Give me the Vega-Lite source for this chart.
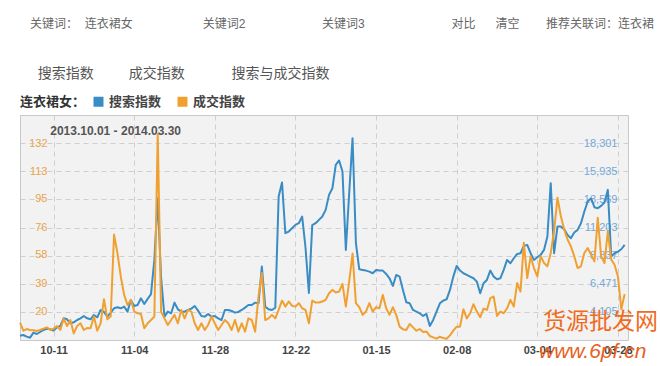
{
  "$schema": "https://vega.github.io/schema/vega-lite/v6.json",
  "width": 608,
  "height": 225,
  "autosize": {"type": "none"},
  "padding": {"left": 20, "top": 115, "right": 32, "bottom": 26},
  "background": "white",
  "config": {
    "font": "Liberation Sans, Noto Sans CJK SC, sans-serif",
    "view": {"fill": "#f2f2f2", "stroke": "#c8c8c8", "strokeWidth": 1},
    "axis": {"labelOverlap": false, "labelSeparation": 0, "labelFlush": false}
  },
  "title": {
    "text": "关键词：\u00a0\u00a0连衣裙女\u00a0\u00a0\u00a0\u00a0\u00a0\u00a0\u00a0\u00a0\u00a0\u00a0\u00a0\u00a0\u00a0\u00a0\u00a0\u00a0\u00a0\u00a0\u00a0\u00a0\u00a0关键词2\u00a0\u00a0\u00a0\u00a0\u00a0\u00a0\u00a0\u00a0\u00a0\u00a0\u00a0\u00a0\u00a0\u00a0\u00a0\u00a0\u00a0\u00a0\u00a0\u00a0\u00a0\u00a0\u00a0关键词3\u00a0\u00a0\u00a0\u00a0\u00a0\u00a0\u00a0\u00a0\u00a0\u00a0\u00a0\u00a0\u00a0\u00a0\u00a0\u00a0\u00a0\u00a0\u00a0\u00a0\u00a0\u00a0\u00a0\u00a0\u00a0\u00a0对比\u00a0\u00a0\u00a0\u00a0\u00a0\u00a0清空\u00a0\u00a0\u00a0\u00a0\u00a0\u00a0\u00a0\u00a0推荐关联词：连衣裙",
    "subtitle": "\u200b\u00a0\u00a0搜索指数\u00a0\u00a0\u00a0\u00a0\u00a0\u00a0\u00a0\u00a0\u00a0成交指数\u00a0\u00a0\u00a0\u00a0\u00a0\u00a0\u00a0\u00a0\u00a0\u00a0\u00a0\u00a0搜索与成交指数",
    "anchor": "start",
    "frame": "group",
    "dx": 10,
    "offset": 13,
    "fontSize": 12,
    "fontWeight": "normal",
    "color": "#666666",
    "subtitleFontSize": 14,
    "subtitleColor": "#555555",
    "subtitlePadding": 36
  },
  "data": {
    "values": [
      {"d":"2013-10-01","s":2104,"t":12.9},{"d":"2013-10-02","s":2160,"t":7.5},{"d":"2013-10-03","s":2020,"t":8.6},{"d":"2013-10-04","s":1935,"t":8.0},{"d":"2013-10-05","s":2357,"t":7.8},{"d":"2013-10-06","s":2244,"t":7.3},{"d":"2013-10-07","s":2413,"t":8.0},{"d":"2013-10-08","s":2581,"t":8.9},{"d":"2013-10-09","s":2693,"t":9.7},{"d":"2013-10-10","s":2637,"t":8.0},
      {"d":"2013-10-11","s":2525,"t":8.9},{"d":"2013-10-12","s":2806,"t":10.6},{"d":"2013-10-13","s":2918,"t":8.0},{"d":"2013-10-14","s":3564,"t":15.5},{"d":"2013-10-15","s":3479,"t":10.6},{"d":"2013-10-16","s":3143,"t":14.6},{"d":"2013-10-17","s":3227,"t":5.7},{"d":"2013-10-18","s":3423,"t":10.6},{"d":"2013-10-19","s":3564,"t":12.4},{"d":"2013-10-20","s":3760,"t":8.0},
      {"d":"2013-10-21","s":3564,"t":9.3},{"d":"2013-10-22","s":3479,"t":9.1},{"d":"2013-10-23","s":3844,"t":16.9},{"d":"2013-10-24","s":3648,"t":7.5},{"d":"2013-10-25","s":4265,"t":12.4},{"d":"2013-10-26","s":4097,"t":28.4},{"d":"2013-10-27","s":3704,"t":15.1},{"d":"2013-10-28","s":4041,"t":16.9},{"d":"2013-10-29","s":4406,"t":71.3},{"d":"2013-10-30","s":4490,"t":59.1},
      {"d":"2013-10-31","s":4406,"t":43.5},
      {"d":"2013-11-01","s":4546,"t":31.3},{"d":"2013-11-02","s":4125,"t":24.6},{"d":"2013-11-03","s":5107,"t":28.0},{"d":"2013-11-04","s":4602,"t":20.2},{"d":"2013-11-05","s":4686,"t":19.1},{"d":"2013-11-06","s":5248,"t":18.6},{"d":"2013-11-07","s":4771,"t":9.1},{"d":"2013-11-08","s":5200,"t":12.4},{"d":"2013-11-09","s":5600,"t":14.6},{"d":"2013-11-10","s":8500,"t":16.9},
      {"d":"2013-11-11","s":13669,"t":138},{"d":"2013-11-12","s":7000,"t":20},{"d":"2013-11-13","s":3700,"t":15.7},{"d":"2013-11-14","s":4125,"t":11.3},{"d":"2013-11-15","s":3985,"t":14.6},{"d":"2013-11-16","s":4883,"t":18.0},{"d":"2013-11-17","s":4321,"t":12.4},{"d":"2013-11-18","s":4125,"t":21.3},{"d":"2013-11-19","s":4125,"t":15.7},{"d":"2013-11-20","s":4265,"t":21.3},
      {"d":"2013-11-21","s":4378,"t":20.2},{"d":"2013-11-22","s":4602,"t":12.4},{"d":"2013-11-23","s":4209,"t":8.0},{"d":"2013-11-24","s":3760,"t":12.4},{"d":"2013-11-25","s":3704,"t":8.0},{"d":"2013-11-26","s":3928,"t":11.3},{"d":"2013-11-27","s":3704,"t":16.9},{"d":"2013-11-28","s":3760,"t":12.4},{"d":"2013-11-29","s":3564,"t":8.0},{"d":"2013-11-30","s":3423,"t":11.3},
      {"d":"2013-12-01","s":4265,"t":14.6},{"d":"2013-12-02","s":4265,"t":12.4},{"d":"2013-12-03","s":4181,"t":8.0},{"d":"2013-12-04","s":4041,"t":14.6},{"d":"2013-12-05","s":4097,"t":6.9},{"d":"2013-12-06","s":4265,"t":12.4},{"d":"2013-12-07","s":4462,"t":6.9},{"d":"2013-12-08","s":4686,"t":15.7},{"d":"2013-12-09","s":4686,"t":14.6},{"d":"2013-12-10","s":4883,"t":6.9},
      {"d":"2013-12-11","s":4827,"t":30.2},{"d":"2013-12-12","s":7914,"t":45.8},{"d":"2013-12-13","s":4546,"t":14.6},{"d":"2013-12-14","s":4321,"t":15.7},{"d":"2013-12-15","s":4265,"t":18.0},{"d":"2013-12-16","s":4450,"t":15.7},{"d":"2013-12-17","s":13809,"t":21.3},{"d":"2013-12-18","s":14988,"t":27.5},{"d":"2013-12-19","s":10721,"t":23.5},{"d":"2013-12-20","s":10862,"t":26.9},
      {"d":"2013-12-21","s":11142,"t":24.0},{"d":"2013-12-22","s":11423,"t":23.5},{"d":"2013-12-23","s":11564,"t":25.8},{"d":"2013-12-24","s":12125,"t":22.4},{"d":"2013-12-25","s":9500,"t":21.3},{"d":"2013-12-26","s":5700,"t":12.4},{"d":"2013-12-27","s":11400,"t":27.5},{"d":"2013-12-28","s":11564,"t":26.2},{"d":"2013-12-29","s":11844,"t":26.2},{"d":"2013-12-30","s":12125,"t":26.9},
      {"d":"2013-12-31","s":12686,"t":28.0},
      {"d":"2014-01-01","s":13949,"t":32.4},{"d":"2014-01-02","s":14511,"t":34.6},{"d":"2014-01-03","s":16476,"t":32.9},{"d":"2014-01-04","s":16841,"t":33.5},{"d":"2014-01-05","s":15914,"t":38.6},{"d":"2014-01-06","s":9318,"t":23.5},{"d":"2014-01-07","s":14090,"t":40.2},{"d":"2014-01-08","s":18721,"t":58.7},{"d":"2014-01-09","s":9879,"t":25.8},{"d":"2014-01-10","s":7690,"t":23.1},
      {"d":"2014-01-11","s":7634,"t":18.0},{"d":"2014-01-12","s":7578,"t":20.2},{"d":"2014-01-13","s":7493,"t":25.8},{"d":"2014-01-14","s":7353,"t":20.2},{"d":"2014-01-15","s":7634,"t":23.1},{"d":"2014-01-16","s":7578,"t":22.4},{"d":"2014-01-17","s":7578,"t":31.3},{"d":"2014-01-18","s":7297,"t":22.4},{"d":"2014-01-19","s":6932,"t":18.0},{"d":"2014-01-20","s":6286,"t":23.1},
      {"d":"2014-01-21","s":7213,"t":18.0},{"d":"2014-01-22","s":7072,"t":10.2},{"d":"2014-01-23","s":5950,"t":8.4},{"d":"2014-01-24","s":4911,"t":8.0},{"d":"2014-01-25","s":4827,"t":12.0},{"d":"2014-01-26","s":4265,"t":9.7},{"d":"2014-01-27","s":4125,"t":7.5},{"d":"2014-01-28","s":3985,"t":8.6},{"d":"2014-01-29","s":3760,"t":6.6},{"d":"2014-01-30","s":3928,"t":6.9},
      {"d":"2014-01-31","s":2918,"t":4.0},
      {"d":"2014-02-01","s":3423,"t":3.1},{"d":"2014-02-02","s":4125,"t":2.2},{"d":"2014-02-03","s":4827,"t":3.5},{"d":"2014-02-04","s":5051,"t":2.6},{"d":"2014-02-05","s":5164,"t":2.2},{"d":"2014-02-06","s":5950,"t":4.4},{"d":"2014-02-07","s":7072,"t":7.5},{"d":"2014-02-08","s":7971,"t":10.2},{"d":"2014-02-09","s":7578,"t":10.2},{"d":"2014-02-10","s":7353,"t":21.8},
      {"d":"2014-02-11","s":7213,"t":15.7},{"d":"2014-02-12","s":7072,"t":19.1},{"d":"2014-02-13","s":6932,"t":25.1},{"d":"2014-02-14","s":6651,"t":20.2},{"d":"2014-02-15","s":5669,"t":16.4},{"d":"2014-02-16","s":6511,"t":22.2},{"d":"2014-02-17","s":6792,"t":21.3},{"d":"2014-02-18","s":7578,"t":29.1},{"d":"2014-02-19","s":7072,"t":30.2},{"d":"2014-02-20","s":6848,"t":17.3},
      {"d":"2014-02-21","s":6932,"t":20.2},{"d":"2014-02-22","s":7634,"t":19.1},{"d":"2014-02-23","s":8476,"t":22.4},{"d":"2014-02-24","s":8195,"t":28.0},{"d":"2014-02-25","s":8616,"t":23.5},{"d":"2014-02-26","s":8981,"t":39.1},{"d":"2014-02-27","s":9037,"t":33.5},{"d":"2014-02-28","s":9655,"t":65.8},
      {"d":"2014-03-01","s":9739,"t":42.4},{"d":"2014-03-02","s":9037,"t":56.9},{"d":"2014-03-03","s":8476,"t":49.1},{"d":"2014-03-04","s":8700,"t":43.5},{"d":"2014-03-05","s":8897,"t":56.9},{"d":"2014-03-06","s":9318,"t":52.4},{"d":"2014-03-07","s":10441,"t":50.2},{"d":"2014-03-08","s":14932,"t":59.1},{"d":"2014-03-09","s":9037,"t":73.5},{"d":"2014-03-10","s":11283,"t":95.8},
      {"d":"2014-03-11","s":11283,"t":83.6},{"d":"2014-03-12","s":11058,"t":74.7},{"d":"2014-03-13","s":10581,"t":68.0},{"d":"2014-03-14","s":10300,"t":63.5},{"d":"2014-03-15","s":10778,"t":56.9},{"d":"2014-03-16","s":11002,"t":49.1},{"d":"2014-03-17","s":11564,"t":50.2},{"d":"2014-03-18","s":12546,"t":59.1},{"d":"2014-03-19","s":13388,"t":62.4},{"d":"2014-03-20","s":13669,"t":58.0},
      {"d":"2014-03-21","s":12911,"t":53.5},{"d":"2014-03-22","s":12827,"t":82.4},{"d":"2014-03-23","s":13023,"t":56.9},{"d":"2014-03-24","s":13304,"t":52.4},{"d":"2014-03-25","s":14371,"t":73.5},{"d":"2014-03-26","s":8757,"t":54.7},{"d":"2014-03-27","s":9037,"t":51.3},{"d":"2014-03-28","s":9178,"t":43.5},{"d":"2014-03-29","s":9374,"t":21.8},{"d":"2014-03-30","s":9739,"t":31.8}
    ],
    "format": {"parse": {"d": "date:'%Y-%m-%d'"}}
  },
  "layer": [
    {
      "mark": {"type": "line", "strokeWidth": 2, "strokeJoin": "round"},
      "encoding": {
        "x": {
          "field": "d", "type": "temporal",
          "scale": {"domain": [{"year": 2013, "month": 10, "date": 1}, {"year": 2014, "month": 3, "date": 31}]},
          "axis": {
            "title": null,
            "values": [{"year": 2013, "month": 10, "date": 11}, {"year": 2013, "month": 11, "date": 4}, {"year": 2013, "month": 11, "date": 28}, {"year": 2013, "month": 12, "date": 22}, {"year": 2014, "month": 1, "date": 15}, {"year": 2014, "month": 2, "date": 8}, {"year": 2014, "month": 3, "date": 4}, {"year": 2014, "month": 3, "date": 28}],
            "format": "%m-%d",
            "labelFontSize": 11,
            "labelFontWeight": "bold",
            "labelColor": "#444444",
            "labelPadding": 4,
            "tickSize": 0,
            "ticks": false,
            "domain": false,
            "grid": true,
            "gridDash": [5, 4],
            "gridColor": "#cfcfcf",
            "labelFlush": false,
            "labelOverlap": false
          }
        },
        "y": {
          "field": "s", "type": "quantitative",
          "scale": {"domain": [1739, 20667], "nice": false, "zero": false},
          "axis": {
            "orient": "right",
            "title": null,
            "values": [4105, 6471, 8837, 11203, 13569, 15935, 18301],
            "labelExpr": "format(datum.value, ',d')",
            "labelColor": "#73a8d8",
            "labelFontSize": 11,
            "labelAlign": "right",
            "labelBaseline": "middle",
            "labelPadding": -11,
            "tickSize": 0,
            "ticks": false,
            "domain": false,
            "grid": true,
            "gridDash": [5, 4],
            "gridColor": "#cfcfcf",
            "labelFlush": false,
            "labelOverlap": false,
            "labelBound": false
          }
        },
        "color": {
          "datum": "搜索指数",
          "type": "nominal",
          "scale": {"domain": ["搜索指数", "成交指数"], "range": ["#3a8cc4", "#f0a030"]},
          "legend": {
            "orient": "none",
            "legendX": 0,
            "legendY": -20,
            "direction": "horizontal",
            "title": "连衣裙女：",
            "titleOrient": "left",
            "titleFontSize": 13,
            "titleFontWeight": "bold",
            "titleColor": "#333333",
            "titlePadding": 6,
            "labelFontSize": 13,
            "labelFontWeight": "bold",
            "labelColor": "#444444",
            "labelOffset": 4,
            "columnPadding": 14,
            "symbolType": "square",
            "symbolSize": 100,
            "symbolStrokeWidth": 0,
            "encode": {"symbols": {"update": {"fill": {"scale": "color", "field": "value"}, "fillOpacity": {"value": 1}, "strokeWidth": {"value": 0}}}}
          }
        }
      }
    },
    {
      "mark": {"type": "line", "strokeWidth": 2, "strokeJoin": "round"},
      "encoding": {
        "x": {"field": "d", "type": "temporal"},
        "y": {
          "field": "t", "type": "quantitative",
          "scale": {"domain": [1.333, 150.67], "nice": false, "zero": false},
          "axis": {
            "orient": "left",
            "title": null,
            "values": [20, 39, 58, 76, 95, 113, 132],
            "labelExpr": "format(datum.value, 'd')",
            "labelColor": "#e8a54c",
            "labelFontSize": 11,
            "labelAlign": "right",
            "labelBaseline": "middle",
            "labelPadding": -27,
            "tickSize": 0,
            "ticks": false,
            "domain": false,
            "grid": false,
            "labelFlush": false,
            "labelOverlap": false,
            "labelBound": false
          }
        },
        "color": {"datum": "成交指数", "type": "nominal"}
      }
    },
    {
      "encoding": {
        "y": {
          "scale": {"domain": [1.333, 150.67], "nice": false, "zero": false},
          "axis": {"orient": "left", "title": null, "labels": false, "ticks": false, "domain": false, "grid": false}
        }
      },
      "layer": [
        {
          "data": {"values": [{"label": "2013.10.01 - 2014.03.30"}]},
          "mark": {"type": "text", "align": "left", "baseline": "middle", "fontSize": 12, "fontWeight": "bold", "color": "#555555"},
          "encoding": {
            "x": {"datum": {"year": 2013, "month": 10, "date": 10}, "type": "temporal"},
            "y": {"datum": 140, "type": "quantitative"},
            "text": {"field": "label"}
          }
        },
        {
          "data": {"values": [{"label": "货源批发网"}]},
          "mark": {"type": "text", "align": "left", "baseline": "middle", "fontSize": 23, "font": "Noto Sans CJK SC", "color": "#f06b1d"},
          "encoding": {
            "x": {"datum": {"year": 2014, "month": 3, "date": 5, "hours": 16}, "type": "temporal"},
            "y": {"datum": 13.3, "type": "quantitative"},
            "text": {"field": "label"}
          }
        },
        {
          "data": {"values": [{"label": "www.6pf.cn"}]},
          "mark": {"type": "text", "align": "left", "baseline": "middle", "fontSize": 21, "fontStyle": "italic", "color": "#e8601c"},
          "encoding": {
            "x": {"datum": {"year": 2014, "month": 3, "date": 4, "hours": 12}, "type": "temporal"},
            "y": {"datum": -6.6, "type": "quantitative"},
            "text": {"field": "label"}
          }
        }
      ]
    }
  ],
  "resolve": {"scale": {"y": "independent"}}
}
